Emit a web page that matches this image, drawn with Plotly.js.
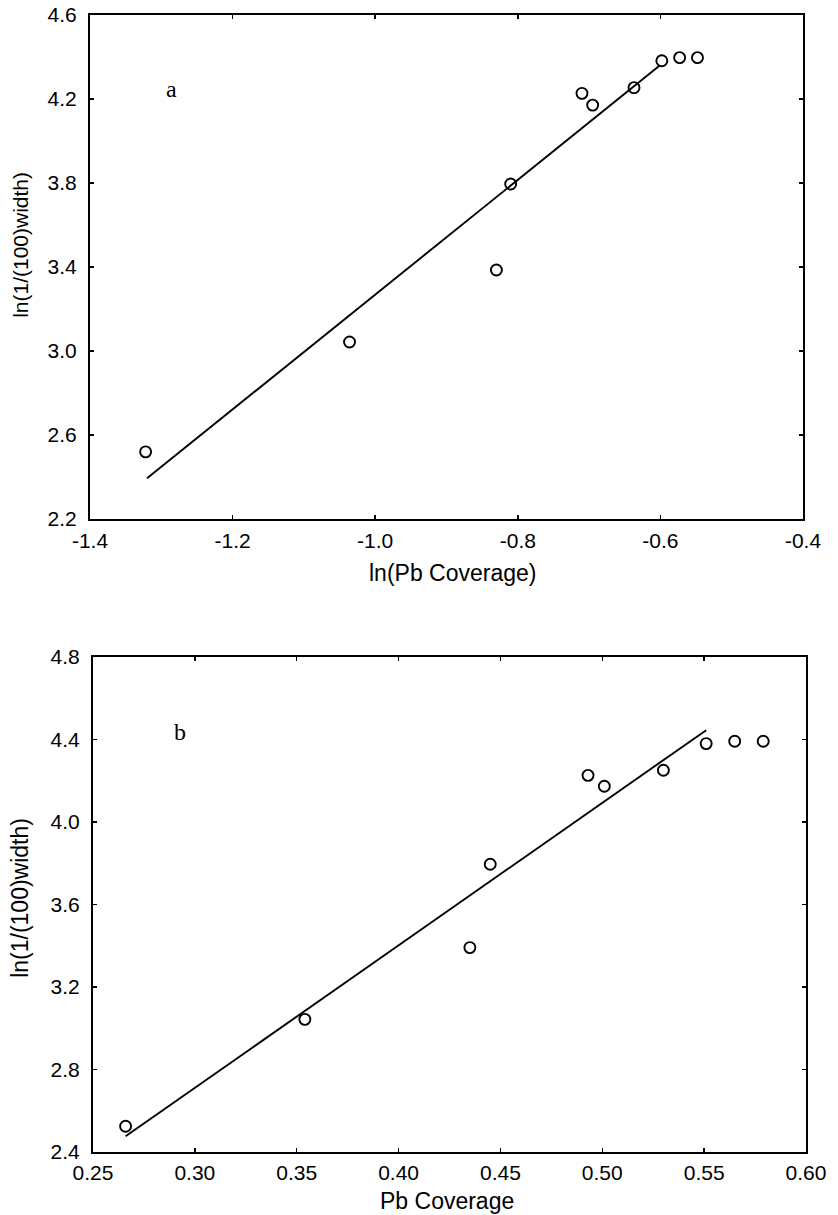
<!DOCTYPE html>
<html>
<head>
<meta charset="utf-8">
<script src="https://cdn.plot.ly/plotly-3.0.1.min.js"></script>
<style>html,body{margin:0;padding:0;background:#fff;}#chart{width:838px;height:1215px;}</style>
</head>
<body>
<div id="chart"></div>
<script>
// Panel a: ln(Pb coverage) vs ln(1/(100)width)
const lnCoverageA = [-1.322, -1.036, -0.830, -0.810, -0.710, -0.695, -0.637, -0.598, -0.573, -0.548];
const lnWidthA    = [2.52, 3.043, 3.386, 3.795, 4.227, 4.171, 4.254, 4.382, 4.397, 4.397];
const fitXA = [-1.320, -0.601];
const fitYA = [2.394, 4.359];

// Panel b: Pb coverage vs ln(1/(100)width)
const coverageB = [0.266, 0.354, 0.435, 0.445, 0.493, 0.501, 0.530, 0.551, 0.565, 0.579];
const lnWidthB  = [2.525, 3.043, 3.391, 3.795, 4.226, 4.173, 4.251, 4.380, 4.391, 4.391];
const fitXB = [0.266, 0.551];
const fitYB = [2.476, 4.445];

const xTicksA = [-1.4, -1.2, -1.0, -0.8, -0.6, -0.4];
const xTickTextA = ['-1.4', '-1.2', '-1.0', '-0.8', '-0.6', '-0.4'];
const yTicksA = [2.2, 2.6, 3.0, 3.4, 3.8, 4.2, 4.6];
const yTickTextA = ['2.2', '2.6', '3.0', '3.4', '3.8', '4.2', '4.6'];
const xTicksB = [0.25, 0.30, 0.35, 0.40, 0.45, 0.50, 0.55, 0.60];
const xTickTextB = ['0.25', '0.30', '0.35', '0.40', '0.45', '0.50', '0.55', '0.60'];
const yTicksB = [2.4, 2.8, 3.2, 3.6, 4.0, 4.4, 4.8];
const yTickTextB = ['2.4', '2.8', '3.2', '3.6', '4.0', '4.4', '4.8'];

const yTitle = 'ln(1/(100)width)';
const xTitleA = 'ln(Pb Coverage)';
const xTitleB = 'Pb Coverage';
const panelLabels = ['a', 'b'];

const marker = {symbol: 'circle-open', size: 11, color: '#000', line: {width: 1.9, color: '#000'}};
const fitLine = {color: '#000', width: 1.9};

const traces = [
  {x: fitXA, y: fitYA, mode: 'lines', line: fitLine, xaxis: 'x', yaxis: 'y', hoverinfo: 'skip'},
  {x: lnCoverageA, y: lnWidthA, mode: 'markers', marker: marker, xaxis: 'x', yaxis: 'y'},
  {x: fitXB, y: fitYB, mode: 'lines', line: fitLine, xaxis: 'x2', yaxis: 'y2', hoverinfo: 'skip'},
  {x: coverageB, y: lnWidthB, mode: 'markers', marker: marker, xaxis: 'x2', yaxis: 'y2'}
];

const fam = 'Liberation Sans, Arial, Helvetica, sans-serif';
const tickFont = {family: fam, size: 21, color: '#000'};
const xTitleFont = {family: fam, size: 23, color: '#000'};
const yTitleFontA = {family: fam, size: 21, color: '#000'};
const yTitleFontB = {family: fam, size: 23, color: '#000'};
const serifFont = {family: 'Liberation Serif, Times New Roman, serif', size: 24, color: '#000'};

const axisCommon = {
  showgrid: false, zeroline: false, showline: true, linecolor: '#000', linewidth: 2,
  mirror: 'ticks', ticks: 'inside', ticklen: 4, tickwidth: 1.5, tickcolor: '#000',
  tickfont: tickFont, tickmode: 'array'
};

const layout = {
  width: 838, height: 1215,
  margin: {l: 90, r: 32, t: 15, b: 63},
  paper_bgcolor: '#fff', plot_bgcolor: '#fff',
  showlegend: false,
  font: tickFont,
  xaxis: Object.assign({}, axisCommon, {
    domain: [0, 0.9958], range: [-1.4, -0.4], anchor: 'y',
    tickvals: xTicksA, ticktext: xTickTextA, ticklabelstandoff: 2
  }),
  yaxis: Object.assign({}, axisCommon, {
    domain: [0.5567, 1], range: [2.2, 4.6], anchor: 'x',
    tickvals: yTicksA, ticktext: yTickTextA, ticklabelstandoff: 7
  }),
  xaxis2: Object.assign({}, axisCommon, {
    domain: [0.0042, 1], range: [0.25, 0.60], anchor: 'y2',
    tickvals: xTicksB, ticktext: xTickTextB, ticklabelstandoff: 1
  }),
  yaxis2: Object.assign({}, axisCommon, {
    domain: [0, 0.4354], range: [2.4, 4.8], anchor: 'x2',
    tickvals: yTicksB, ticktext: yTickTextB, ticklabelstandoff: 7
  }),
  annotations: [
    {text: yTitle, xref: 'paper', yref: 'paper', x: -0.098, y: 0.7977, textangle: -90,
     xanchor: 'center', yanchor: 'middle', showarrow: false, font: yTitleFontA},
    {text: yTitle, xref: 'paper', yref: 'paper', x: -0.098, y: 0.2234, textangle: -90,
     xanchor: 'center', yanchor: 'middle', showarrow: false, font: yTitleFontB},
    {text: xTitleA, xref: 'paper', yref: 'paper', x: 0.5056, y: 0.5093,
     xanchor: 'center', yanchor: 'middle', showarrow: false, font: xTitleFont},
    {text: xTitleB, xref: 'paper', yref: 'paper', x: 0.4993, y: -0.0431,
     xanchor: 'center', yanchor: 'middle', showarrow: false, font: xTitleFont},
    {text: panelLabels[0], xref: 'x', yref: 'y', x: -1.285, y: 4.248, showarrow: false, font: serifFont},
    {text: panelLabels[1], xref: 'x2', yref: 'y2', x: 0.2926, y: 4.435, showarrow: false, font: serifFont}
  ]
};

Plotly.newPlot('chart', traces, layout, {displayModeBar: false, staticPlot: true});
</script>
</body>
</html>
